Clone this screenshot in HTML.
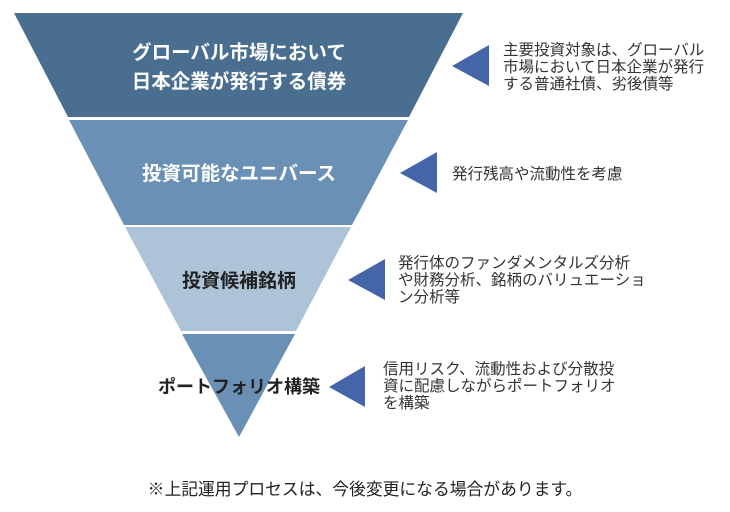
<!DOCTYPE html>
<html><head><meta charset="utf-8"><style>
body{margin:0;background:#fff;}
svg text{font-family:"Liberation Sans","Noto Sans CJK JP",sans-serif;}
</style></head><body>
<svg width="730" height="507" viewBox="0 0 730 507" xmlns="http://www.w3.org/2000/svg">
<polygon points="14,13 463,13 409,117 68,117" fill="#4a6e90"/>
<polygon points="69,120 408,120 352,225 124,225" fill="#6a91b5"/>
<polygon points="125,227 351,227 296,331 181,331" fill="#adc3d8"/>
<polygon points="182,334 295,334 239,437" fill="#6a91b5"/>
<g fill="#fff" font-size="19.5" font-weight="bold" text-anchor="middle">
<text x="239" y="59">グローバル市場において</text>
<text x="239" y="88">日本企業が発行する債券</text>
<text x="239" y="180">投資可能なユニバース</text>
</g>
<g fill="#222" font-size="19" font-weight="bold" text-anchor="middle">
<text x="239" y="287">投資候補銘柄</text>
</g>
<text x="239" y="393" fill="#222" font-size="18" font-weight="bold" text-anchor="middle">ポートフォリオ構築</text>
<g fill="#4466a8">
<polygon points="452,66 489,45 489,86"/>
<polygon points="400,173 437,152 437,193"/>
<polygon points="348,280 385,259 385,300"/>
<polygon points="329,387 365,366 365,407"/>
</g>
<g fill="#333" font-size="15.5">
<text x="503" y="55">主要投資対象は、グローバル</text>
<text x="503" y="72">市場において日本企業が発行</text>
<text x="503" y="89">する普通社債、劣後債等</text>
<text x="452" y="179">発行残高や流動性を考慮</text>
<text x="398" y="268">発行体のファンダメンタルズ分析</text>
<text x="398" y="285">や財務分析、銘柄のバリュエーショ</text>
<text x="398" y="302">ン分析等</text>
<text x="383" y="374">信用リスク、流動性および分散投</text>
<text x="383" y="391">資に配慮しながらポートフォリオ</text>
<text x="383" y="408">を構築</text>
</g>
<text x="365" y="495" font-size="16.8" fill="#222" text-anchor="middle">※上記運用プロセスは、今後変更になる場合があります。</text>
</svg>
</body></html>
